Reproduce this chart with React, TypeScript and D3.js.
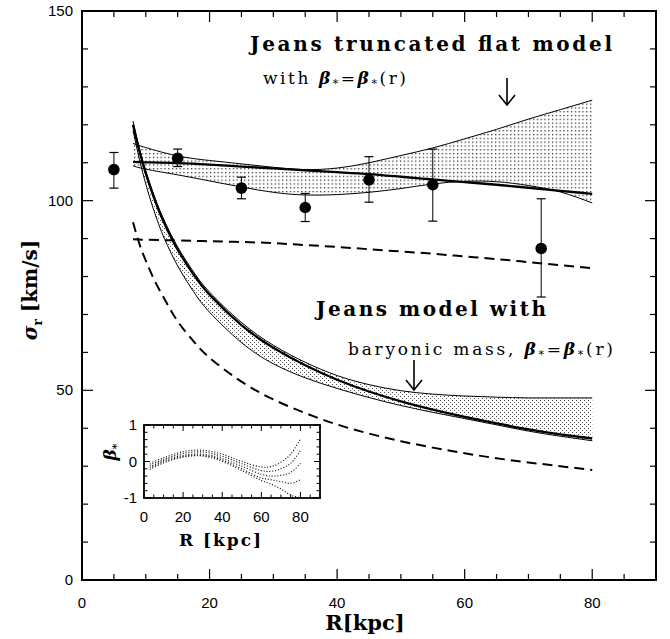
import React from 'react';
import * as d3 from 'd3';

// ---- Main panel data ----
const R_DATA = [5, 15, 25, 35, 45, 55, 72];
const SIGMA_DATA = [108.2, 111.2, 103.3, 98.2, 105.5, 104.2, 87.4];
const SIGMA_HI = [112.7, 113.6, 106.2, 101.9, 111.6, 113.6, 100.5];
const SIGMA_LO = [103.3, 109.0, 100.5, 94.5, 99.6, 94.6, 74.6];

// truncated flat model family
const R_FLAT = [8, 10, 15, 20, 25, 30, 35, 40, 45, 50, 55, 60, 65, 70, 75, 80];
const FLAT_BAND_HIGH = [115.1, 114.0, 111.8, 110.6, 109.7, 108.8, 108.2, 108.6, 110.0, 111.9, 113.9, 116.3, 118.8, 121.5, 124.0, 126.5];
const FLAT_BAND_LOW = [109.2, 108.3, 106.8, 105.2, 103.6, 102.2, 101.5, 101.6, 102.2, 103.2, 104.4, 105.1, 105.0, 104.0, 102.3, 99.4];
const FLAT_CONST = [110.2, 110.1, 109.9, 109.5, 109.0, 108.5, 108.0, 107.5, 107.0, 106.3, 105.6, 104.9, 104.2, 103.4, 102.6, 101.8];
const FLAT_DASHED = [89.8, 89.7, 89.5, 89.3, 89.1, 88.8, 88.3, 87.8, 87.2, 86.6, 86.0, 85.3, 84.6, 83.8, 83.0, 82.2];

// baryonic mass family
const R_BAR = [8, 9, 10, 11, 12, 13, 15, 17.5, 20, 25, 30, 35, 40, 45, 50, 55, 60, 65, 70, 75, 80];
const BAR_BAND_HIGH = [121, 113.8, 107.9, 102.8, 98.3, 94.4, 87.8, 81.2, 75.9, 67.9, 61.9, 57.4, 53.9, 51.5, 49.9, 49.0, 48.5, 48.2, 48.0, 48.0, 48.0];
const BAR_BAND_LOW = [118.5, 110.9, 104.4, 98.8, 93.9, 89.7, 82.8, 76.0, 70.6, 62.6, 57.0, 53.3, 50.5, 48.1, 46.0, 44.2, 42.55, 40.9, 39.25, 37.9, 36.7];
const BAR_CONST = [120, 113.1, 107.2, 102.1, 97.6, 93.7, 87.1, 80.5, 75.2, 67.2, 61.2, 56.6, 52.8, 49.7, 47.1, 44.9, 43.0, 41.3, 39.7, 38.4, 37.3];
const BAR_DASHED = [94.3, 88.6, 84.2, 80.3, 76.9, 73.9, 68.2, 62.9, 58.6, 52.3, 47.6, 44.0, 41.0, 38.6, 36.6, 34.9, 33.4, 32.1, 31.0, 30.0, 29.0];

// ---- Inset data (beta profiles) ----
const R_BETA = [3, 10, 20, 30, 40, 50, 60, 65, 70, 75, 80];
const BETA_A = [-0.05, 0.1, 0.27, 0.31, 0.2, 0.0, -0.15, -0.14, -0.02, 0.2, 0.62];
const BETA_B = [-0.1, 0.06, 0.22, 0.26, 0.14, -0.06, -0.25, -0.27, -0.2, -0.05, 0.3];
const BETA_C = [-0.15, 0.02, 0.17, 0.2, 0.08, -0.13, -0.35, -0.4, -0.38, -0.3, -0.05];
const BETA_D = [-0.18, -0.01, 0.14, 0.17, 0.04, -0.2, -0.45, -0.5, -0.55, -0.6, -0.5];
const BETA_E = [-0.22, -0.04, 0.12, 0.15, 0.0, -0.25, -0.52, -0.62, -0.75, -0.92, -1.0];

const X_TICKS = [0, 20, 40, 60, 80];
const Y_TICKS = [0, 50, 100, 150];
const INSET_X_TICKS = [0, 20, 40, 60, 80];
const INSET_Y_TICKS = [-1, 0, 1];

const W = 670;
const H = 639;
const L = 82, RGT = 656, T = 11, B = 580;
const IL = 144, IR = 320, IT = 425, IB = 498;

const SERIF = '"DejaVu Serif", serif';
const SANS = '"Liberation Sans", Arial, sans-serif';

export default function App() {
  const x = d3.scaleLinear().domain([0, 90]).range([L, RGT]);
  const y = d3.scaleLinear().domain([0, 150]).range([B, T]);
  const ix = d3.scaleLinear().domain([0, 90]).range([IL, IR]);
  const iy = d3.scaleLinear().domain([-1, 1]).range([IB, IT]);

  const zip = (xs: number[], ys: number[]) => xs.map((v, i) => [v, ys[i]] as [number, number]);
  const curve = d3.curveNatural;

  const line = d3.line<[number, number]>().x(d => x(d[0])).y(d => y(d[1])).curve(curve);
  const area = (xs: number[], lo: number[], hi: number[]) =>
    d3.area<number>()
      .x(i => x(xs[i]))
      .y0(i => y(lo[i]))
      .y1(i => y(hi[i]))
      .curve(curve)(xs.map((_, i) => i)) || '';
  const iline = d3.line<[number, number]>().x(d => ix(d[0])).y(d => iy(d[1])).curve(d3.curveCatmullRom.alpha(0.5));

  const xMinor = d3.range(0, 91, 5);
  const yMinor = d3.range(0, 151, 10);
  const ixMinor = d3.range(0, 91, 5);
  const iyMinor = d3.range(-1, 1.001, 0.2);

  const betas = [BETA_A, BETA_B, BETA_C, BETA_D, BETA_E];

  return (
    <svg width={W} height={H} style={{ position: 'absolute', left: 0, top: 0, background: '#fff' }}>
      <defs>
        <pattern id="dotsA" width="3.8" height="3.8" patternUnits="userSpaceOnUse">
          <rect x="1" y="1" width="1.2" height="1.2" fill="#111" />
        </pattern>
        <pattern id="dotsB" width="4" height="4" patternUnits="userSpaceOnUse">
          <rect x="0" y="0" width="1" height="1" fill="#444" />
          <rect x="2" y="2" width="1" height="1" fill="#666" />
        </pattern>
      </defs>
      <rect x={0} y={0} width={W} height={H} fill="#fff" />

      {/* bands */}
      <path d={area(R_FLAT, FLAT_BAND_LOW, FLAT_BAND_HIGH)} fill="url(#dotsA)" />
      <path d={area(R_BAR, BAR_BAND_LOW, BAR_BAND_HIGH)} fill="url(#dotsB)" />

      {/* band edges */}
      {[zip(R_FLAT, FLAT_BAND_HIGH), zip(R_FLAT, FLAT_BAND_LOW), zip(R_BAR, BAR_BAND_HIGH), zip(R_BAR, BAR_BAND_LOW)].map((d, i) => (
        <path key={'e' + i} d={line(d) || ''} fill="none" stroke="#000" strokeWidth={1} />
      ))}

      {/* thick model lines */}
      <path d={line(zip(R_FLAT, FLAT_CONST)) || ''} fill="none" stroke="#000" strokeWidth={2.3} />
      <path d={line(zip(R_BAR, BAR_CONST)) || ''} fill="none" stroke="#000" strokeWidth={2.3} />

      {/* dashed lines */}
      <path d={line(zip(R_FLAT, FLAT_DASHED)) || ''} fill="none" stroke="#000" strokeWidth={2} strokeDasharray="10,6" />
      <path d={line(zip(R_BAR, BAR_DASHED)) || ''} fill="none" stroke="#000" strokeWidth={2} strokeDasharray="10,6" />

      {/* data points */}
      {R_DATA.map((r, i) => (
        <g key={'p' + i}>
          <line x1={x(r)} x2={x(r)} y1={y(SIGMA_HI[i])} y2={y(SIGMA_LO[i])} stroke="#000" strokeWidth={1} />
          <line x1={x(r) - 4.5} x2={x(r) + 4.5} y1={y(SIGMA_HI[i])} y2={y(SIGMA_HI[i])} stroke="#000" strokeWidth={1.2} />
          <line x1={x(r) - 4.5} x2={x(r) + 4.5} y1={y(SIGMA_LO[i])} y2={y(SIGMA_LO[i])} stroke="#000" strokeWidth={1.2} />
          <circle cx={x(r)} cy={y(SIGMA_DATA[i])} r={5.8} fill="#000" />
        </g>
      ))}

      {/* frame & ticks */}
      <rect x={L} y={T} width={RGT - L} height={B - T} fill="none" stroke="#000" strokeWidth={2} />
      {xMinor.map(v => {
        const len = v % 20 === 0 ? 11 : 6;
        return (
          <g key={'xt' + v}>
            <line x1={x(v)} x2={x(v)} y1={B} y2={B - len} stroke="#000" strokeWidth={1.2} />
            <line x1={x(v)} x2={x(v)} y1={T} y2={T + len} stroke="#000" strokeWidth={1.2} />
          </g>
        );
      })}
      {yMinor.map(v => {
        const len = v % 50 === 0 ? 11 : 6;
        return (
          <g key={'yt' + v}>
            <line x1={L} x2={L + len} y1={y(v)} y2={y(v)} stroke="#000" strokeWidth={1.2} />
            <line x1={RGT} x2={RGT - len} y1={y(v)} y2={y(v)} stroke="#000" strokeWidth={1.2} />
          </g>
        );
      })}
      {X_TICKS.map(v => (
        <text key={'xl' + v} x={x(v)} y={608} textAnchor="middle" fontFamily={SANS} fontSize={15}>{v}</text>
      ))}
      {Y_TICKS.map(v => (
        <text key={'yl' + v} x={73} y={y(v) + 5} textAnchor="end" fontFamily={SANS} fontSize={15}>{v}</text>
      ))}

      {/* axis titles */}
      <text x={365} y={630} textAnchor="middle" fontFamily={SERIF} fontWeight="bold" fontSize={21}>R[kpc]</text>
      <text transform="translate(37,290) rotate(-90)" textAnchor="middle" fontFamily={SERIF} fontWeight="bold" fontSize={20}>
        <tspan fontStyle="italic">σ</tspan>
        <tspan fontSize={12} dy={5}>r</tspan>
        <tspan dy={-5}> [km/s]</tspan>
      </text>

      {/* annotations */}
      <text x={250} y={51} fontFamily={SERIF} fontWeight="bold" fontSize={20} textLength={362} lengthAdjust="spacing">Jeans truncated flat model</text>
      <text x={263} y={84} fontFamily={SERIF} fontSize={17} textLength={143} lengthAdjust="spacing">
        <tspan>with </tspan>
        <tspan fontStyle="italic" fontWeight="bold">β</tspan>
        <tspan fontSize={11} dy={3}>*</tspan>
        <tspan dy={-3}>=</tspan>
        <tspan fontStyle="italic" fontWeight="bold">β</tspan>
        <tspan fontSize={11} dy={3}>*</tspan>
        <tspan dy={-3}>(r)</tspan>
      </text>
      <text x={316} y={316} fontFamily={SERIF} fontWeight="bold" fontSize={20} textLength={230} lengthAdjust="spacing">Jeans model with</text>
      <text x={348} y={355} fontFamily={SERIF} fontSize={17} textLength={265} lengthAdjust="spacing">
        <tspan>baryonic mass, </tspan>
        <tspan fontStyle="italic" fontWeight="bold">β</tspan>
        <tspan fontSize={11} dy={3}>*</tspan>
        <tspan dy={-3}>=</tspan>
        <tspan fontStyle="italic" fontWeight="bold">β</tspan>
        <tspan fontSize={11} dy={3}>*</tspan>
        <tspan dy={-3}>(r)</tspan>
      </text>

      {/* arrows */}
      <g stroke="#000" strokeWidth={1.6} fill="none">
        <line x1={507} x2={507} y1={78} y2={105} />
        <polyline points="499,95 507,105 515,95" />
        <line x1={414} x2={414} y1={360} y2={390} />
        <polyline points="406,380 414,390 422,380" />
      </g>

      {/* inset */}
      <rect x={IL} y={IT} width={IR - IL} height={IB - IT} fill="#fff" stroke="#000" strokeWidth={1.8} />
      {betas.map((b, i) => (
        <path key={'b' + i} d={iline(zip(R_BETA, b)) || ''} fill="none" stroke="#111" strokeWidth={1.1} strokeDasharray="1.1,1.8" />
      ))}
      {ixMinor.map(v => {
        const len = v % 20 === 0 ? 6 : 3.5;
        return (
          <g key={'ixt' + v}>
            <line x1={ix(v)} x2={ix(v)} y1={IB} y2={IB - len} stroke="#000" strokeWidth={1} />
            <line x1={ix(v)} x2={ix(v)} y1={IT} y2={IT + len} stroke="#000" strokeWidth={1} />
          </g>
        );
      })}
      {iyMinor.map((v, k) => {
        const len = k % 5 === 0 ? 6 : 3.5;
        return (
          <g key={'iyt' + k}>
            <line x1={IL} x2={IL + len} y1={iy(v)} y2={iy(v)} stroke="#000" strokeWidth={1} />
            <line x1={IR} x2={IR - len} y1={iy(v)} y2={iy(v)} stroke="#000" strokeWidth={1} />
          </g>
        );
      })}
      {INSET_X_TICKS.map(v => (
        <text key={'ixl' + v} x={ix(v)} y={522} textAnchor="middle" fontFamily={SANS} fontSize={15}>{v}</text>
      ))}
      {INSET_Y_TICKS.map(v => (
        <text key={'iyl' + v} x={137} y={iy(v) + 5} textAnchor="end" fontFamily={SANS} fontSize={15}>{v}</text>
      ))}
      <text x={220} y={546} textAnchor="middle" fontFamily={SERIF} fontWeight="bold" fontSize={17} textLength={82} lengthAdjust="spacing">R [kpc]</text>
      <text transform="translate(116,452) rotate(-90)" textAnchor="middle" fontFamily={SERIF} fontWeight="bold" fontSize={17}>
        <tspan fontStyle="italic">β</tspan>
        <tspan fontSize={11} dy={4}>*</tspan>
      </text>
    </svg>
  );
}
